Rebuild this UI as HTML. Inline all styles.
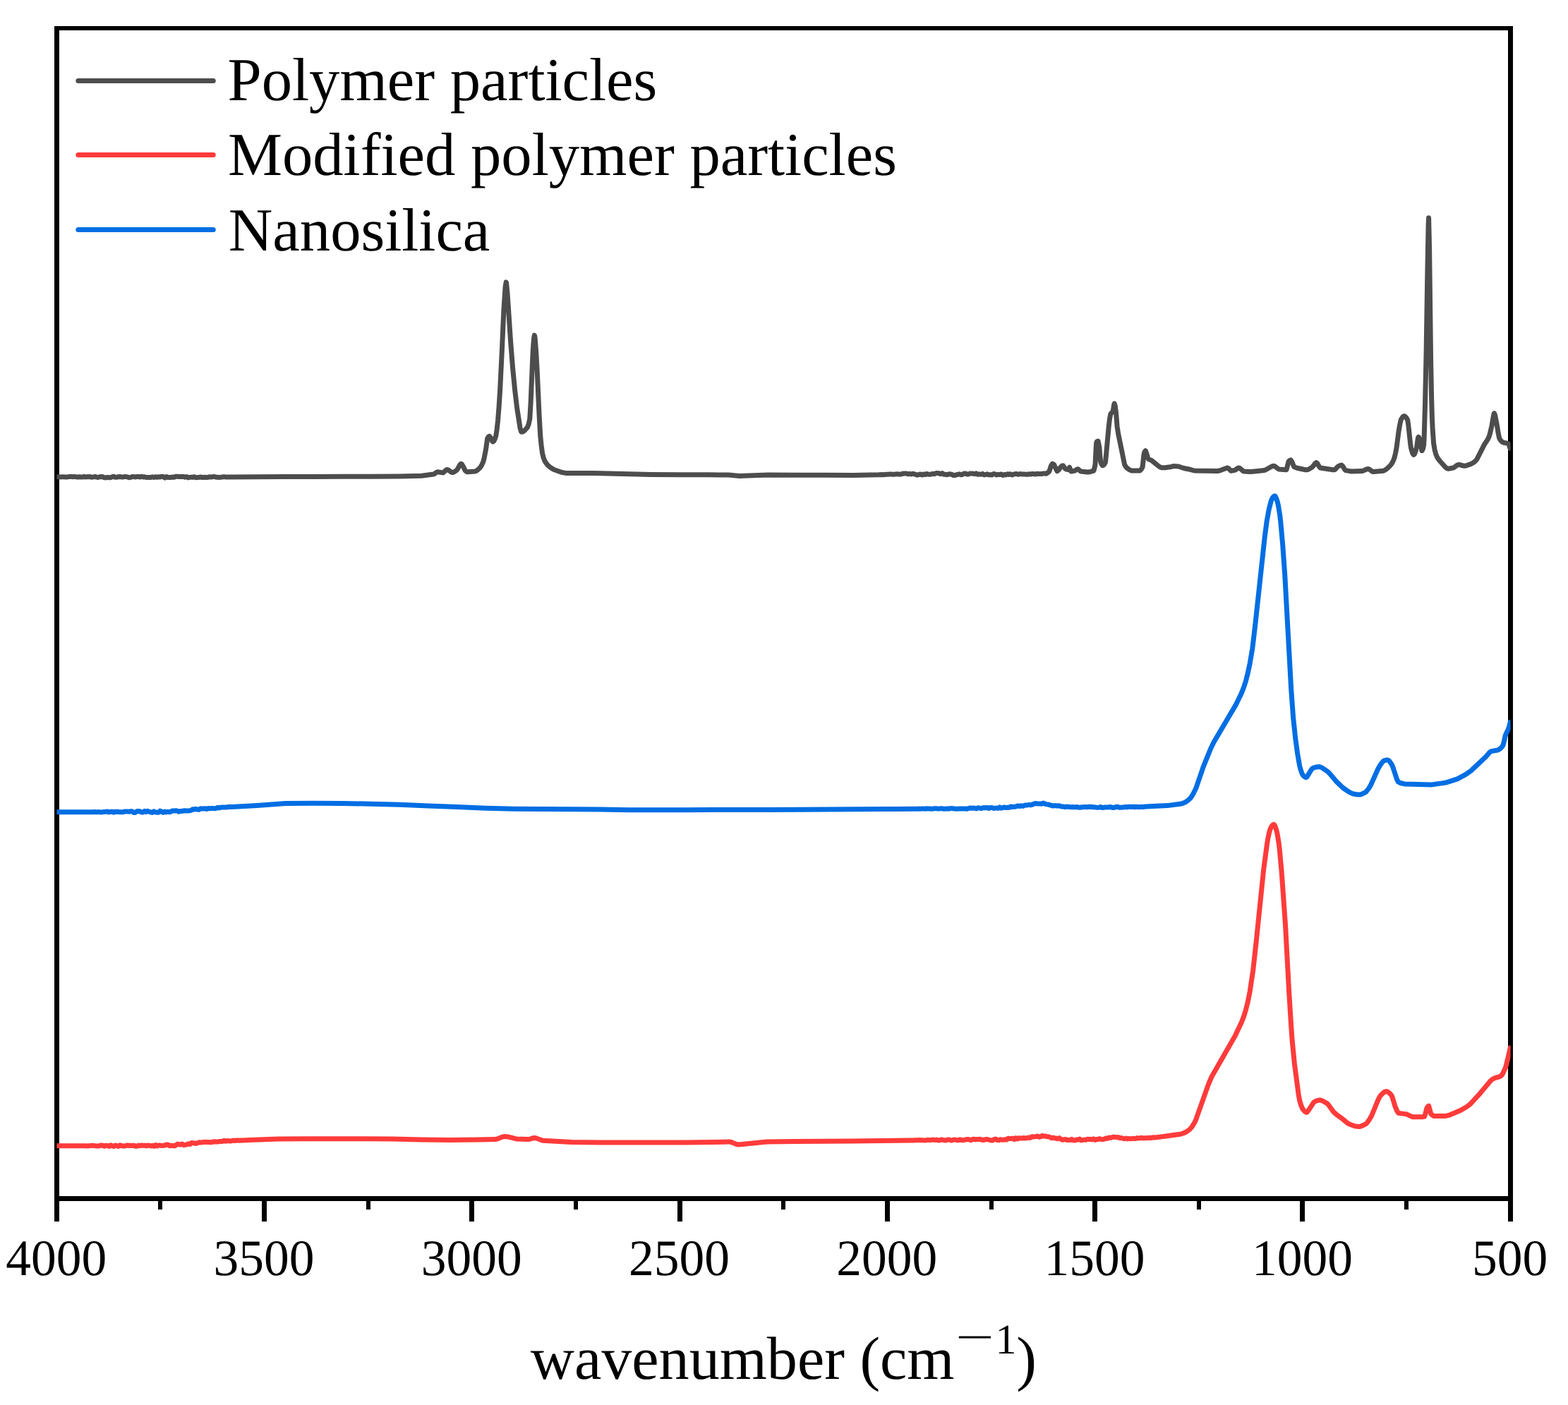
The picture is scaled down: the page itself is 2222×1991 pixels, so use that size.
<!DOCTYPE html>
<html lang="en">
<head>
<meta charset="utf-8">
<title>FTIR spectra</title>
<style>
html, body { margin: 0; padding: 0; background: #ffffff; }
figure.chart { margin: 0; padding: 0; width: 2222px; height: 1991px; }
body { width: 2222px; height: 1991px; overflow: hidden; }
svg { display: block; }
text { font-family: "Liberation Serif", serif; fill: #000000; text-rendering: geometricPrecision; }
.curve { fill: none; stroke-width: 7.0; stroke-linejoin: round; stroke-linecap: round; }
.leg { font-size: 86.65px; }
.tick { font-size: 72.6px; text-anchor: middle; }
.title { font-size: 86.2px; }
.sup { font-size: 60px; }
</style>
</head>
<body>
<figure class="chart">
<svg width="2222" height="1991" viewBox="0 0 2222 1991" role="img" aria-label="FTIR spectra of polymer particles, modified polymer particles and nanosilica">
<rect x="0" y="0" width="2222" height="1991" fill="#ffffff"/>
<g id="axes" fill="#000000" shape-rendering="crispEdges">
<rect x="77" y="37" width="2067" height="6"/>
<rect x="77" y="1695" width="2067" height="7"/>
<rect x="77" y="37" width="7" height="1694"/>
<rect x="2137" y="37" width="7" height="1694"/>
<rect x="224" y="1695" width="6" height="19"/>
<rect x="371" y="1695" width="7" height="36"/>
<rect x="519" y="1695" width="6" height="19"/>
<rect x="665" y="1695" width="7" height="36"/>
<rect x="813" y="1695" width="6" height="19"/>
<rect x="960" y="1695" width="7" height="36"/>
<rect x="1107" y="1695" width="6" height="19"/>
<rect x="1254" y="1695" width="7" height="36"/>
<rect x="1402" y="1695" width="6" height="19"/>
<rect x="1548" y="1695" width="7" height="36"/>
<rect x="1696" y="1695" width="6" height="19"/>
<rect x="1842" y="1695" width="7" height="36"/>
<rect x="1990" y="1695" width="6" height="19"/>
</g>
<clipPath id="plot"><rect x="80.5" y="40.0" width="2060.0" height="1658.3"/></clipPath>
<g id="series" clip-path="url(#plot)">
<path class="curve" stroke="#4d4d4d" d="M80.1,675.8 L84.0,675.8 L86.2,675.9 L88.4,675.7 L90.6,675.8 L92.8,676.1 L95.0,676.1 L97.2,675.6 L99.4,675.6 L101.6,675.5 L103.8,675.8 L106.0,675.4 L108.2,675.9 L110.4,676.1 L112.6,675.7 L114.8,676.1 L117.0,676.1 L119.2,675.3 L121.4,676.0 L123.6,675.6 L125.8,675.8 L128.0,675.6 L130.2,676.3 L132.4,675.9 L134.6,675.4 L136.8,676.1 L139.0,676.5 L141.2,675.7 L143.4,675.5 L145.6,675.8 L147.8,676.8 L150.0,676.9 L152.2,676.3 L154.4,676.8 L156.6,676.7 L158.8,675.8 L161.0,675.2 L163.2,676.3 L165.4,676.2 L167.6,675.8 L169.8,675.5 L172.0,675.9 L174.2,676.0 L176.4,675.6 L178.6,675.6 L180.8,676.0 L183.0,676.8 L185.2,676.3 L187.4,675.6 L189.6,675.6 L191.8,676.0 L194.0,675.4 L196.2,675.4 L198.4,676.1 L200.6,675.2 L202.8,676.1 L205.0,675.8 L207.2,676.5 L209.4,676.6 L211.6,676.5 L213.8,676.5 L216.0,675.8 L218.2,676.5 L220.4,675.7 L222.6,676.3 L224.8,675.7 L227.0,676.0 L229.2,675.2 L231.4,675.5 L233.6,677.1 L235.8,675.5 L238.0,676.5 L240.2,676.4 L242.4,676.6 L244.6,676.0 L246.8,676.3 L249.0,675.2 L251.2,675.2 L253.4,675.5 L255.6,675.4 L257.8,675.3 L260.0,675.4 L262.2,676.2 L264.4,675.5 L266.6,676.9 L268.8,676.4 L271.0,676.1 L273.2,676.4 L275.4,675.7 L277.6,676.7 L279.8,676.6 L282.0,676.4 L284.2,676.0 L286.4,676.5 L288.6,676.4 L290.8,676.2 L293.0,676.6 L295.2,676.2 L297.4,675.8 L299.6,676.0 L301.8,675.6 L304.0,675.6 L306.2,676.2 L308.4,676.2 L310.6,676.4 L312.8,676.2 L315.0,676.0 L317.2,675.6 L319.4,675.9 L321.6,676.1 L323.8,676.0 L326.0,675.9 L328.2,675.9 L363.6,675.7 L404.1,675.5 L444.6,675.4 L485.1,675.3 L525.6,675.2 L566.1,674.9 L597.6,674.2 L614.1,672.0 L615.6,671.6 L618.6,669.2 L620.1,668.7 L627.6,669.9 L629.1,669.0 L632.1,666.1 L633.6,665.5 L635.1,665.9 L639.6,669.1 L641.1,669.5 L642.6,669.2 L644.1,668.5 L647.1,666.4 L648.6,664.4 L651.6,658.8 L653.1,657.3 L653.5,657.2 L654.6,657.9 L656.1,660.5 L659.1,666.6 L660.6,668.0 L662.1,668.8 L672.7,668.1 L674.1,667.7 L677.1,665.8 L680.1,663.0 L681.6,660.9 L683.1,658.1 L684.6,654.7 L686.1,649.3 L688.5,636.9 L690.6,621.9 L690.9,621.0 L692.1,619.0 L693.6,618.1 L695.1,620.1 L696.6,623.6 L698.1,625.9 L698.4,626.0 L699.6,625.2 L701.1,622.5 L702.6,618.4 L704.1,609.1 L705.6,595.3 L707.1,576.4 L708.6,552.8 L711.6,491.7 L713.9,439.1 L716.1,406.2 L717.2,399.9 L717.6,400.9 L719.1,416.8 L723.6,484.1 L726.6,521.9 L729.6,552.5 L732.6,577.9 L737.1,606.9 L738.6,611.8 L739.0,612.1 L740.1,612.0 L741.6,611.4 L743.1,610.3 L746.9,606.2 L747.6,605.1 L749.1,601.3 L750.8,593.4 L752.1,570.6 L755.1,499.7 L755.8,488.5 L756.6,479.5 L757.4,475.1 L758.1,478.3 L759.7,498.4 L761.1,523.5 L764.1,588.5 L765.7,617.1 L767.1,631.2 L768.6,642.3 L770.1,648.4 L771.6,652.3 L773.1,655.2 L776.1,659.1 L780.6,662.9 L785.1,665.5 L795.6,669.3 L801.6,670.4 L842.1,670.5 L882.6,671.4 L923.1,672.4 L963.6,672.8 L1004.1,672.8 L1032.6,673.0 L1047.6,674.4 L1088.1,673.1 L1128.6,673.2 L1169.1,673.3 L1209.6,673.4 L1245.0,672.8 L1247.2,672.7 L1249.4,672.6 L1251.6,672.8 L1253.8,672.6 L1256.0,672.3 L1258.2,672.3 L1260.4,672.0 L1262.6,672.0 L1264.8,672.3 L1267.0,672.2 L1269.2,671.9 L1271.4,671.7 L1273.6,672.0 L1275.8,672.2 L1278.0,671.6 L1280.2,671.0 L1282.4,670.9 L1284.6,670.9 L1286.8,671.9 L1289.0,671.3 L1291.2,672.0 L1293.4,671.3 L1295.6,671.7 L1297.8,672.6 L1300.0,673.2 L1302.2,672.5 L1304.4,671.9 L1306.6,673.0 L1308.8,672.0 L1311.0,672.6 L1313.2,671.4 L1315.4,672.2 L1317.6,672.3 L1319.8,672.0 L1322.0,671.2 L1324.2,671.7 L1326.4,670.5 L1328.6,670.6 L1330.8,670.7 L1333.0,671.7 L1335.2,670.6 L1337.4,672.2 L1339.6,672.2 L1341.8,672.8 L1344.0,671.9 L1346.2,671.8 L1348.4,672.1 L1350.6,673.4 L1352.8,673.6 L1355.0,672.9 L1357.2,672.3 L1359.4,671.8 L1361.6,672.7 L1363.8,672.6 L1366.0,670.9 L1368.2,671.0 L1370.4,672.1 L1372.6,671.9 L1374.8,670.9 L1377.0,670.9 L1379.2,671.3 L1381.4,671.6 L1383.6,670.8 L1385.8,672.3 L1388.0,671.8 L1390.2,672.3 L1392.4,671.4 L1394.6,672.9 L1396.8,672.5 L1399.0,671.8 L1401.2,673.0 L1403.4,672.6 L1405.6,673.0 L1407.8,671.6 L1410.0,671.7 L1412.2,673.0 L1414.4,672.3 L1416.6,672.6 L1418.8,671.9 L1421.0,673.4 L1423.2,672.5 L1425.4,673.0 L1427.6,671.7 L1429.8,672.4 L1432.0,671.7 L1434.2,673.0 L1436.4,672.2 L1438.6,671.6 L1440.8,671.6 L1443.0,672.3 L1445.2,671.6 L1447.4,671.7 L1449.6,672.1 L1451.8,672.1 L1454.0,672.2 L1456.2,672.2 L1458.4,671.8 L1460.6,672.1 L1462.8,671.5 L1465.0,671.6 L1467.2,672.1 L1469.4,671.3 L1471.6,671.4 L1473.8,671.4 L1476.0,671.5 L1478.2,671.1 L1480.4,671.1 L1482.6,671.2 L1484.8,669.8 L1487.0,667.8 L1489.2,660.7 L1491.4,657.2 L1493.6,658.3 L1495.8,663.2 L1498.0,667.6 L1500.6,665.7 L1502.1,663.0 L1503.6,661.3 L1505.1,660.0 L1506.0,659.7 L1506.6,659.9 L1509.6,664.2 L1511.1,665.1 L1513.6,665.6 L1514.1,665.1 L1515.7,662.2 L1517.1,666.6 L1517.8,668.1 L1523.1,667.1 L1526.1,665.0 L1527.0,664.7 L1527.6,664.8 L1529.1,665.9 L1530.6,667.3 L1532.1,668.1 L1541.1,668.9 L1545.6,668.4 L1549.6,667.2 L1550.1,666.6 L1551.6,660.4 L1552.1,657.2 L1553.1,636.1 L1553.7,627.1 L1554.6,625.7 L1555.9,625.0 L1556.1,625.1 L1557.9,633.7 L1559.1,649.4 L1559.6,653.8 L1560.6,657.0 L1562.1,659.6 L1562.5,659.7 L1563.6,659.3 L1565.1,657.7 L1566.3,655.5 L1566.6,654.4 L1571.3,603.6 L1572.6,592.9 L1573.8,586.9 L1574.1,586.3 L1577.2,582.7 L1578.6,573.9 L1579.2,571.8 L1580.1,574.4 L1581.6,585.4 L1583.1,604.4 L1584.6,614.3 L1593.6,658.1 L1595.1,661.0 L1596.6,662.9 L1599.6,665.1 L1602.6,666.6 L1604.1,667.0 L1614.6,667.1 L1616.1,666.3 L1617.6,664.6 L1619.1,661.9 L1621.0,643.8 L1622.1,640.3 L1623.2,638.8 L1623.6,639.1 L1626.6,648.6 L1627.4,650.5 L1628.1,651.0 L1631.6,652.2 L1634.1,654.2 L1641.6,660.4 L1644.6,662.3 L1646.1,662.8 L1650.6,662.8 L1658.1,661.8 L1662.6,660.6 L1670.1,661.0 L1677.6,663.5 L1686.6,665.3 L1692.6,667.0 L1725.6,667.5 L1730.1,666.3 L1737.6,663.4 L1739.6,663.0 L1740.6,663.4 L1743.6,666.8 L1744.6,667.2 L1749.6,666.4 L1751.1,665.6 L1754.1,663.4 L1755.6,663.0 L1757.1,663.6 L1761.6,667.5 L1763.1,668.1 L1772.1,668.6 L1791.6,666.5 L1793.1,666.0 L1802.1,661.0 L1803.6,660.4 L1805.1,660.2 L1806.6,660.8 L1811.1,664.3 L1812.6,664.9 L1822.7,665.8 L1823.1,665.4 L1826.1,653.8 L1827.6,652.5 L1829.1,651.9 L1830.6,653.8 L1833.6,661.2 L1834.2,661.8 L1838.1,663.2 L1850.1,665.7 L1851.6,665.8 L1853.1,665.6 L1856.1,664.2 L1859.6,661.8 L1860.6,660.8 L1863.6,656.8 L1865.1,655.6 L1865.4,655.6 L1866.6,656.4 L1869.6,661.5 L1871.1,663.0 L1889.1,665.7 L1890.7,665.8 L1892.1,665.2 L1895.1,661.8 L1896.6,660.7 L1899.6,659.3 L1901.1,659.1 L1902.6,660.2 L1905.6,665.3 L1907.1,666.6 L1914.6,667.9 L1930.0,667.6 L1931.1,667.4 L1937.1,664.7 L1938.7,664.4 L1940.1,664.8 L1944.6,668.1 L1946.1,668.5 L1960.0,667.2 L1962.6,666.2 L1965.6,664.1 L1970.1,659.7 L1971.6,657.8 L1973.1,655.4 L1975.0,651.5 L1976.1,648.2 L1977.6,642.0 L1979.1,634.1 L1982.1,611.0 L1983.6,602.3 L1985.1,595.6 L1985.8,593.8 L1988.1,590.3 L1989.6,589.6 L1991.1,590.1 L1992.6,591.6 L1994.6,594.9 L1995.6,600.5 L1998.6,628.4 L1999.6,635.3 L2001.6,642.1 L2003.1,644.5 L2003.3,644.5 L2004.6,643.2 L2006.1,639.3 L2007.6,633.9 L2009.1,622.7 L2010.0,619.2 L2010.6,619.6 L2012.1,623.0 L2013.0,626.1 L2014.9,638.8 L2015.1,638.8 L2016.6,635.6 L2017.6,630.7 L2018.1,621.9 L2019.6,569.7 L2021.1,499.7 L2022.7,395.4 L2024.1,318.5 L2024.6,308.8 L2025.6,352.6 L2027.6,510.7 L2028.6,563.5 L2029.4,591.5 L2030.1,606.7 L2031.6,628.4 L2033.1,637.4 L2034.6,643.1 L2036.1,646.8 L2037.6,649.6 L2040.6,653.5 L2048.1,661.8 L2049.6,663.1 L2051.1,664.0 L2052.6,664.2 L2059.2,663.0 L2060.1,662.7 L2064.6,659.4 L2066.1,658.6 L2067.6,658.4 L2073.6,660.0 L2075.3,660.2 L2078.1,659.8 L2084.1,657.6 L2087.1,656.1 L2090.1,653.9 L2091.6,652.5 L2093.1,650.4 L2103.6,629.7 L2108.1,622.9 L2109.9,619.2 L2111.1,615.6 L2114.1,603.0 L2115.6,593.8 L2117.1,586.2 L2117.5,585.7 L2118.6,588.1 L2121.6,603.9 L2123.1,613.5 L2124.6,620.8 L2126.1,623.4 L2127.6,625.2 L2129.1,626.4 L2130.7,627.2 L2137.2,628.4 L2138.1,629.7 L2139.9,635.3"/>
<path class="curve" stroke="#016ee3" d="M80.7,1150.7 L121.2,1150.7 L130.0,1150.7 L132.2,1150.8 L134.4,1150.5 L136.6,1150.9 L138.8,1150.6 L141.0,1150.7 L143.2,1150.9 L145.4,1150.7 L147.6,1150.4 L149.8,1150.3 L152.0,1150.1 L154.2,1150.9 L156.4,1150.5 L158.6,1150.1 L160.8,1151.2 L163.0,1150.3 L165.2,1150.5 L167.4,1150.3 L169.6,1150.8 L171.8,1150.7 L174.0,1150.8 L176.2,1150.1 L178.4,1150.1 L180.6,1150.1 L182.8,1150.2 L185.0,1149.8 L187.2,1149.8 L189.4,1151.5 L191.6,1151.5 L193.8,1149.8 L196.0,1149.5 L198.2,1149.8 L200.4,1150.9 L202.6,1151.1 L204.8,1149.4 L207.0,1150.6 L209.2,1149.3 L211.4,1150.5 L213.6,1150.7 L215.8,1151.5 L218.0,1149.8 L220.2,1151.1 L222.4,1151.2 L224.6,1151.3 L226.8,1149.1 L229.0,1150.2 L231.2,1151.4 L233.4,1150.0 L235.6,1151.0 L237.8,1150.3 L240.0,1150.8 L242.2,1150.1 L244.4,1148.9 L246.6,1148.9 L248.8,1148.7 L251.0,1148.9 L253.2,1150.3 L255.4,1149.4 L257.6,1149.6 L259.8,1148.9 L262.0,1148.8 L264.2,1149.0 L266.4,1149.1 L268.6,1148.8 L270.8,1148.4 L273.0,1146.8 L275.2,1147.1 L277.4,1146.3 L279.6,1147.1 L281.8,1147.4 L284.0,1145.8 L286.2,1145.9 L288.4,1146.1 L290.6,1145.7 L292.8,1146.4 L295.0,1145.6 L297.2,1145.8 L299.4,1145.4 L301.6,1145.4 L303.8,1145.7 L306.0,1145.5 L308.2,1144.3 L310.4,1145.0 L312.6,1144.3 L314.8,1143.9 L317.0,1144.0 L319.2,1143.9 L321.4,1144.0 L323.6,1143.5 L325.8,1143.3 L328.0,1143.4 L364.2,1141.5 L404.7,1138.5 L445.2,1138.3 L485.7,1138.4 L526.2,1139.2 L566.7,1140.3 L607.2,1142.0 L647.7,1143.6 L688.2,1145.3 L728.7,1146.3 L769.2,1146.5 L809.7,1146.7 L850.2,1147.1 L890.7,1147.8 L931.2,1147.8 L971.7,1147.7 L1012.2,1147.6 L1052.7,1147.5 L1093.2,1147.4 L1133.7,1147.2 L1174.2,1147.0 L1214.7,1146.8 L1255.2,1146.5 L1295.7,1146.2 L1300.0,1146.2 L1302.2,1146.1 L1304.4,1146.2 L1306.6,1146.1 L1308.8,1146.1 L1311.0,1146.2 L1313.2,1145.8 L1315.4,1146.1 L1317.6,1146.0 L1319.8,1146.3 L1322.0,1146.2 L1324.2,1145.7 L1326.4,1145.8 L1328.6,1145.9 L1330.8,1146.1 L1333.0,1145.8 L1335.2,1145.8 L1337.4,1146.3 L1339.6,1146.3 L1341.8,1145.8 L1344.0,1146.3 L1346.2,1145.7 L1348.4,1145.4 L1350.6,1145.8 L1352.8,1146.0 L1355.0,1146.2 L1357.2,1146.3 L1359.4,1146.1 L1361.6,1146.0 L1363.8,1146.0 L1366.0,1145.9 L1368.2,1146.0 L1370.4,1146.3 L1372.6,1145.4 L1374.8,1145.0 L1377.0,1145.2 L1379.2,1145.1 L1381.4,1145.3 L1383.6,1145.9 L1385.8,1144.7 L1388.0,1145.2 L1390.2,1145.7 L1392.4,1144.9 L1394.6,1144.5 L1396.8,1144.7 L1399.0,1144.4 L1401.2,1145.5 L1403.4,1144.4 L1405.6,1144.4 L1407.8,1145.4 L1410.0,1145.3 L1412.2,1144.9 L1414.4,1145.4 L1416.6,1143.9 L1418.8,1145.3 L1421.0,1144.5 L1423.2,1143.9 L1425.4,1144.6 L1427.6,1144.2 L1429.8,1144.6 L1432.0,1142.9 L1434.2,1143.5 L1436.4,1143.2 L1438.6,1143.3 L1440.8,1142.5 L1443.0,1141.9 L1445.2,1142.5 L1447.4,1141.8 L1449.6,1142.4 L1451.8,1141.3 L1454.0,1140.9 L1456.2,1140.9 L1458.4,1140.4 L1460.6,1140.8 L1462.8,1140.1 L1465.0,1139.3 L1467.2,1138.4 L1469.4,1138.8 L1471.6,1138.9 L1473.8,1138.9 L1476.0,1139.3 L1478.2,1138.1 L1480.4,1139.0 L1482.6,1139.6 L1484.8,1139.9 L1487.0,1140.5 L1489.2,1141.2 L1491.4,1141.9 L1493.6,1141.7 L1495.8,1141.6 L1498.0,1142.0 L1500.2,1141.8 L1502.4,1142.2 L1504.6,1143.0 L1506.8,1142.9 L1509.0,1143.7 L1511.2,1143.1 L1513.4,1143.2 L1515.6,1143.5 L1517.8,1143.7 L1520.0,1143.6 L1522.2,1143.7 L1524.4,1143.8 L1526.6,1143.5 L1528.8,1144.3 L1531.0,1144.2 L1533.2,1143.8 L1535.4,1143.7 L1537.6,1143.4 L1539.8,1143.8 L1542.0,1143.3 L1544.2,1143.5 L1546.4,1143.3 L1548.6,1143.7 L1550.8,1143.8 L1553.0,1144.1 L1555.2,1144.4 L1557.4,1144.1 L1559.6,1143.5 L1561.8,1144.5 L1564.0,1144.3 L1566.2,1143.9 L1568.4,1144.1 L1570.6,1143.9 L1572.8,1143.5 L1575.0,1144.0 L1577.2,1144.5 L1579.4,1144.2 L1581.6,1143.4 L1583.8,1143.3 L1586.0,1144.2 L1588.2,1144.2 L1590.4,1144.0 L1592.6,1144.0 L1594.8,1143.3 L1597.0,1143.9 L1599.2,1143.3 L1601.4,1143.3 L1603.6,1143.5 L1605.8,1143.1 L1608.0,1143.8 L1610.2,1143.2 L1612.4,1143.7 L1614.6,1143.5 L1616.8,1143.5 L1619.0,1143.3 L1621.2,1143.4 L1623.4,1142.9 L1625.6,1142.9 L1627.8,1142.7 L1630.0,1142.8 L1632.2,1142.5 L1634.4,1142.6 L1636.6,1142.3 L1638.8,1142.3 L1654.2,1141.6 L1672.2,1139.3 L1676.7,1138.1 L1679.7,1136.8 L1684.2,1133.6 L1687.2,1130.7 L1690.2,1126.3 L1694.7,1117.3 L1705.2,1086.6 L1715.7,1060.8 L1720.2,1051.5 L1751.7,998.1 L1759.2,982.4 L1762.2,974.9 L1765.2,965.9 L1768.2,954.2 L1771.2,940.2 L1774.8,919.0 L1778.7,886.0 L1792.2,761.3 L1795.2,738.5 L1798.2,721.9 L1801.2,710.2 L1802.9,706.1 L1804.2,704.3 L1805.7,703.0 L1806.4,702.8 L1807.2,703.3 L1808.7,706.4 L1810.2,710.8 L1811.7,717.5 L1813.6,729.5 L1814.7,738.7 L1817.7,772.0 L1820.7,814.0 L1829.7,976.7 L1832.7,1017.7 L1835.7,1046.0 L1838.7,1068.0 L1841.7,1085.3 L1843.2,1090.9 L1844.7,1095.2 L1846.2,1098.2 L1847.7,1099.9 L1849.2,1101.1 L1850.9,1101.7 L1852.2,1100.8 L1858.2,1090.8 L1859.7,1089.0 L1861.2,1088.2 L1865.7,1086.9 L1868.8,1086.6 L1870.2,1086.7 L1873.2,1087.8 L1880.7,1092.8 L1883.7,1095.6 L1894.2,1107.9 L1903.2,1116.5 L1912.2,1122.6 L1916.7,1124.7 L1924.2,1126.1 L1927.2,1126.1 L1930.2,1125.2 L1934.7,1122.9 L1936.2,1121.7 L1939.2,1117.9 L1942.2,1113.1 L1952.7,1089.8 L1955.7,1084.6 L1958.7,1080.3 L1960.2,1078.7 L1961.7,1077.7 L1964.7,1077.1 L1966.3,1077.0 L1967.7,1077.5 L1969.2,1078.9 L1972.2,1083.2 L1973.7,1086.7 L1979.7,1104.8 L1981.4,1108.0 L1984.2,1109.5 L1990.2,1110.9 L2027.7,1112.1 L2048.7,1109.1 L2065.2,1103.9 L2077.2,1097.4 L2084.7,1092.1 L2105.7,1072.3 L2110.2,1066.9 L2111.7,1065.5 L2113.3,1064.6 L2122.2,1063.0 L2123.7,1062.3 L2125.2,1061.4 L2126.7,1060.2 L2128.2,1058.6 L2129.8,1056.4 L2131.2,1051.4 L2133.1,1042.6 L2134.2,1039.8 L2137.2,1033.7 L2138.7,1029.3 L2140.2,1023.4"/>
<path class="curve" stroke="#ff3b3b" d="M80.7,1623.7 L115.0,1623.7 L117.2,1623.8 L119.4,1623.7 L121.6,1623.8 L123.8,1624.0 L126.0,1623.7 L128.2,1623.7 L130.4,1623.2 L132.6,1623.4 L134.8,1623.7 L137.0,1623.9 L139.2,1624.1 L141.4,1623.5 L143.6,1623.0 L145.8,1623.3 L148.0,1624.3 L150.2,1623.2 L152.4,1623.6 L154.6,1624.4 L156.8,1622.8 L159.0,1623.8 L161.2,1624.5 L163.4,1623.1 L165.6,1623.7 L167.8,1624.4 L170.0,1622.8 L172.2,1623.6 L174.4,1624.1 L176.6,1623.9 L178.8,1623.5 L181.0,1622.9 L183.2,1623.5 L185.4,1623.2 L187.6,1623.5 L189.8,1623.2 L192.0,1624.3 L194.2,1624.2 L196.4,1623.1 L198.6,1623.7 L200.8,1622.9 L203.0,1623.4 L205.2,1623.1 L207.4,1623.8 L209.6,1623.1 L211.8,1623.3 L214.0,1624.0 L216.2,1623.2 L218.4,1624.4 L220.6,1622.5 L222.8,1624.0 L225.0,1623.1 L227.2,1623.1 L229.4,1623.6 L231.6,1623.3 L233.8,1623.0 L236.0,1621.9 L238.2,1622.2 L240.4,1623.7 L242.6,1623.3 L244.8,1623.5 L247.0,1623.9 L249.2,1623.0 L251.4,1621.2 L253.6,1621.7 L255.8,1622.2 L258.0,1621.1 L260.2,1622.7 L262.4,1622.4 L264.6,1621.9 L266.8,1620.8 L269.0,1621.5 L271.2,1619.6 L273.4,1619.8 L275.6,1620.0 L277.8,1620.5 L280.0,1619.7 L282.2,1618.8 L284.4,1619.0 L286.6,1618.8 L288.8,1618.6 L291.0,1618.2 L293.2,1618.5 L295.4,1618.4 L297.6,1618.8 L299.8,1618.7 L302.0,1618.0 L304.2,1617.7 L306.4,1618.1 L308.6,1618.1 L310.8,1617.5 L313.0,1617.5 L315.2,1617.6 L317.4,1616.3 L319.6,1617.3 L321.8,1616.5 L324.0,1616.7 L326.2,1616.9 L328.4,1616.7 L330.6,1616.1 L332.8,1616.5 L335.0,1616.0 L337.2,1616.1 L339.4,1616.3 L341.6,1616.0 L343.8,1616.0 L353.7,1615.6 L394.2,1613.9 L434.7,1613.8 L475.2,1613.8 L515.7,1613.8 L556.2,1613.9 L596.7,1614.9 L637.2,1615.4 L677.7,1615.1 L701.7,1614.6 L704.7,1613.9 L712.2,1611.0 L715.5,1610.5 L719.7,1610.9 L731.7,1613.9 L748.6,1614.6 L751.2,1614.1 L755.7,1612.6 L757.2,1612.5 L760.2,1613.0 L769.2,1616.3 L809.7,1618.4 L850.2,1619.0 L890.7,1619.1 L931.2,1619.0 L971.7,1618.9 L1012.2,1618.5 L1033.2,1617.9 L1036.2,1618.5 L1043.7,1621.5 L1046.7,1622.0 L1086.8,1617.9 L1127.7,1617.5 L1168.2,1617.3 L1208.7,1617.1 L1249.2,1616.6 L1289.7,1615.9 L1290.0,1615.9 L1292.2,1616.0 L1294.4,1616.0 L1296.6,1615.7 L1298.8,1615.8 L1301.0,1615.8 L1303.2,1615.5 L1305.4,1615.8 L1307.6,1615.8 L1309.8,1615.9 L1312.0,1616.0 L1314.2,1615.3 L1316.4,1615.4 L1318.6,1615.7 L1320.8,1615.2 L1323.0,1615.2 L1325.2,1615.6 L1327.4,1615.1 L1329.6,1615.8 L1331.8,1615.9 L1334.0,1614.8 L1336.2,1615.4 L1338.4,1615.8 L1340.6,1616.0 L1342.8,1615.1 L1345.0,1614.9 L1347.2,1615.9 L1349.4,1615.9 L1351.6,1614.9 L1353.8,1615.2 L1356.0,1615.7 L1358.2,1615.8 L1360.4,1614.8 L1362.6,1615.6 L1364.8,1615.8 L1367.0,1615.3 L1369.2,1614.7 L1371.4,1614.5 L1373.6,1614.9 L1375.8,1615.8 L1378.0,1614.4 L1380.2,1614.3 L1382.4,1614.9 L1384.6,1614.4 L1386.8,1614.5 L1389.0,1614.3 L1391.2,1615.2 L1393.4,1615.5 L1395.6,1615.0 L1397.8,1614.4 L1400.0,1614.8 L1402.2,1615.3 L1404.4,1616.0 L1406.6,1616.1 L1408.8,1614.5 L1411.0,1614.1 L1413.2,1615.6 L1415.4,1615.7 L1417.6,1614.7 L1419.8,1615.2 L1422.0,1615.3 L1424.2,1614.7 L1426.4,1615.1 L1428.6,1613.2 L1430.8,1613.6 L1433.0,1613.6 L1435.2,1613.1 L1437.4,1614.7 L1439.6,1612.7 L1441.8,1614.0 L1444.0,1612.6 L1446.2,1613.1 L1448.4,1613.1 L1450.6,1612.5 L1452.8,1613.0 L1455.0,1612.8 L1457.2,1612.0 L1459.4,1612.6 L1461.6,1611.0 L1463.8,1610.8 L1466.0,1610.9 L1468.2,1610.6 L1470.4,1609.9 L1472.6,1611.2 L1474.8,1610.8 L1477.0,1609.3 L1479.2,1610.0 L1481.4,1609.9 L1483.6,1610.8 L1485.8,1610.7 L1488.0,1611.5 L1490.2,1612.8 L1492.4,1612.0 L1494.6,1612.9 L1496.8,1613.1 L1499.0,1613.8 L1501.2,1612.6 L1503.4,1614.4 L1505.6,1615.2 L1507.8,1614.8 L1510.0,1614.5 L1512.2,1615.6 L1514.4,1615.6 L1516.6,1615.5 L1518.8,1614.4 L1521.0,1616.1 L1523.2,1616.0 L1525.4,1614.9 L1527.6,1615.2 L1529.8,1614.0 L1532.0,1615.9 L1534.2,1615.5 L1536.4,1615.1 L1538.6,1615.4 L1540.8,1614.2 L1543.0,1614.4 L1545.2,1614.3 L1547.4,1614.9 L1549.6,1613.9 L1551.8,1615.4 L1554.0,1614.5 L1556.2,1614.4 L1558.4,1613.6 L1560.6,1614.6 L1562.8,1614.7 L1565.0,1614.1 L1567.2,1613.0 L1569.4,1613.4 L1571.6,1611.9 L1573.8,1612.5 L1576.0,1611.7 L1578.2,1611.1 L1580.4,1611.4 L1582.6,1611.8 L1584.8,1611.6 L1587.0,1612.8 L1589.2,1612.4 L1591.4,1613.4 L1593.6,1613.7 L1595.8,1613.0 L1598.0,1613.9 L1600.2,1613.3 L1602.4,1613.8 L1604.6,1613.4 L1606.8,1613.2 L1609.0,1613.6 L1611.2,1612.6 L1613.4,1613.1 L1615.6,1612.7 L1617.8,1612.3 L1620.0,1612.9 L1622.2,1612.7 L1624.4,1612.8 L1626.6,1612.5 L1628.8,1612.2 L1631.0,1612.6 L1633.2,1611.9 L1635.4,1611.8 L1637.6,1612.0 L1639.8,1611.6 L1642.0,1611.3 L1644.2,1611.2 L1646.4,1610.7 L1648.6,1610.5 L1672.2,1607.3 L1676.7,1606.0 L1681.2,1603.8 L1685.7,1600.7 L1688.7,1597.3 L1693.2,1590.1 L1694.7,1586.6 L1712.7,1535.9 L1717.2,1525.5 L1750.2,1467.9 L1759.2,1449.0 L1762.2,1441.4 L1765.2,1432.0 L1768.2,1420.0 L1771.2,1405.1 L1775.7,1375.0 L1780.2,1334.2 L1790.7,1232.0 L1795.2,1198.2 L1796.7,1188.5 L1798.2,1181.5 L1799.7,1175.9 L1801.5,1171.6 L1802.7,1170.0 L1804.2,1168.6 L1805.1,1168.3 L1805.7,1168.6 L1807.2,1171.6 L1808.7,1176.0 L1810.2,1182.4 L1812.2,1194.9 L1813.2,1203.2 L1816.2,1236.1 L1821.5,1310.3 L1826.7,1406.5 L1829.7,1454.3 L1831.2,1475.2 L1834.5,1508.1 L1840.2,1551.3 L1841.9,1560.3 L1843.2,1564.7 L1844.7,1568.9 L1846.2,1571.9 L1849.2,1575.2 L1850.7,1576.2 L1851.5,1576.3 L1852.2,1576.1 L1853.7,1574.3 L1861.2,1562.8 L1862.7,1561.3 L1865.7,1559.9 L1868.7,1559.1 L1870.2,1559.0 L1871.7,1559.1 L1874.7,1560.2 L1880.7,1563.8 L1882.2,1565.3 L1889.7,1575.6 L1894.2,1579.7 L1903.2,1586.2 L1909.2,1591.2 L1912.7,1593.3 L1919.7,1595.8 L1925.7,1596.6 L1928.7,1596.0 L1934.7,1593.3 L1936.2,1592.2 L1937.7,1590.5 L1940.7,1586.2 L1943.7,1581.0 L1952.7,1559.2 L1954.2,1556.0 L1955.7,1553.4 L1958.7,1550.0 L1961.7,1547.5 L1963.2,1546.8 L1964.7,1546.6 L1966.2,1547.0 L1967.7,1547.9 L1970.7,1550.8 L1972.2,1552.7 L1973.7,1556.7 L1976.7,1567.0 L1979.7,1574.3 L1981.2,1576.8 L1982.0,1577.4 L1993.2,1578.9 L2000.7,1582.4 L2002.2,1582.8 L2015.7,1582.8 L2018.7,1582.2 L2020.2,1577.2 L2021.7,1570.8 L2023.2,1568.2 L2024.7,1567.2 L2027.7,1578.3 L2029.2,1579.8 L2030.7,1580.9 L2032.2,1581.6 L2048.7,1581.4 L2053.2,1580.4 L2069.7,1573.6 L2078.7,1568.3 L2083.2,1564.8 L2095.2,1551.9 L2111.7,1532.2 L2114.7,1529.5 L2117.7,1527.9 L2125.2,1525.6 L2127.0,1524.6 L2128.2,1523.5 L2129.7,1521.1 L2133.1,1513.6 L2134.2,1510.3 L2138.7,1491.9 L2140.2,1484.8"/>
</g>
<g id="x-tick-labels">
<text class="tick" transform="translate(79.7,1807.4) scale(0.9848,1)">4000</text>
<text class="tick" transform="translate(374.0,1807.4) scale(0.9848,1)">3500</text>
<text class="tick" transform="translate(668.3,1807.4) scale(0.9848,1)">3000</text>
<text class="tick" transform="translate(962.6,1807.4) scale(0.9848,1)">2500</text>
<text class="tick" transform="translate(1256.8,1807.4) scale(0.9848,1)">2000</text>
<text class="tick" transform="translate(1551.1,1807.4) scale(0.9848,1)">1500</text>
<text class="tick" transform="translate(1845.4,1807.4) scale(0.9848,1)">1000</text>
<text class="tick" transform="translate(2139.7,1807.4) scale(0.9848,1)">500</text>
</g>
<g id="legend">
<line x1="110.9" y1="114.45" x2="302.2" y2="114.45" stroke="#4d4d4d" stroke-width="7.1" stroke-linecap="round"/>
<text class="leg" x="322.5" y="142.1">Polymer particles</text>
<line x1="110.9" y1="219.45" x2="302.2" y2="219.45" stroke="#ff3b3b" stroke-width="7.1" stroke-linecap="round"/>
<text class="leg" x="322.9" y="248.2">Modified polymer particles</text>
<line x1="110.9" y1="325.45" x2="302.2" y2="325.45" stroke="#016ee3" stroke-width="7.1" stroke-linecap="round"/>
<text class="leg" x="323.8" y="354.5">Nanosilica</text>
</g>
<g id="x-axis-title">
<text class="title" x="751.75" y="1954">wavenumber (cm<tspan class="sup" x="1354.1" y="1915" textLength="54.72" lengthAdjust="spacingAndGlyphs">−</tspan><tspan class="sup" x="1410.4" y="1918">1</tspan><tspan x="1440.3" y="1954">)</tspan></text>
</g>
</svg>
</figure>
</body>
</html>
